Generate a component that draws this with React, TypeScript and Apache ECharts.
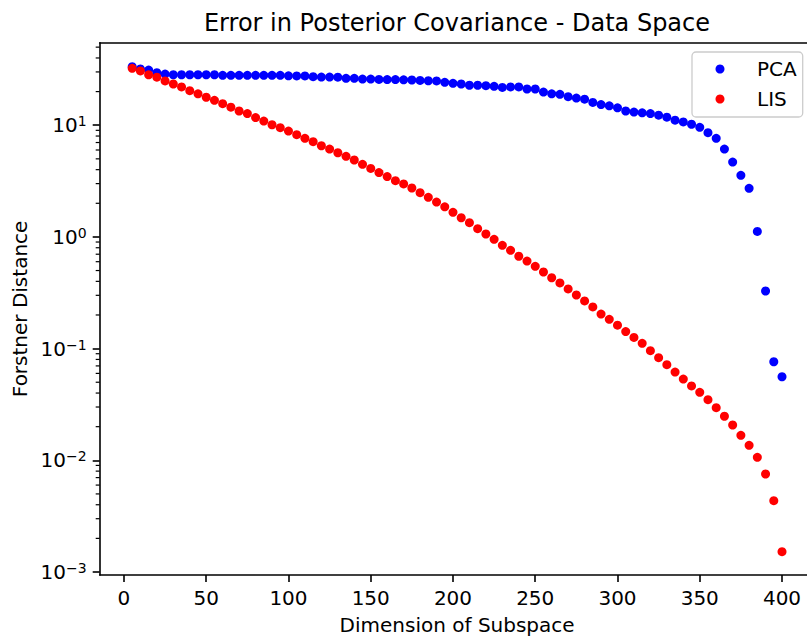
import React, { useEffect, useRef } from "react";
import * as echarts from "echarts";

const TITLE = "Error in Posterior Covariance - Data Space";
const X_NAME = "Dimension of Subspace";
const Y_NAME = "Forstner Distance";
const SERIES_NAMES = ["PCA", "LIS"];

const DIMENSIONS = [
  5, 10, 15, 20, 25, 30, 35, 40, 45, 50,
  55, 60, 65, 70, 75, 80, 85, 90, 95, 100,
  105, 110, 115, 120, 125, 130, 135, 140, 145, 150,
  155, 160, 165, 170, 175, 180, 185, 190, 195, 200,
  205, 210, 215, 220, 225, 230, 235, 240, 245, 250,
  255, 260, 265, 270, 275, 280, 285, 290, 295, 300,
  305, 310, 315, 320, 325, 330, 335, 340, 345, 350,
  355, 360, 365, 370, 375, 380, 385, 390, 395, 400,
];

const PCA = [
  33.4, 31.9, 31.2, 29.5, 28.7, 28.3, 28.3, 28.3, 28.3, 28.3,
  28.3, 28.0, 28.0, 28.0, 28.0, 28.0, 28.0, 28.0, 28.0, 27.7,
  27.6, 27.6, 27.2, 27.0, 27.0, 26.9, 26.3, 26.3, 25.9, 25.9,
  25.7, 25.6, 25.6, 25.5, 25.4, 25.2, 25.0, 24.9, 24.2, 23.7,
  23.4, 22.8, 22.8, 22.6, 22.3, 21.8, 22.0, 22.0, 21.1, 21.1,
  19.8, 19.1, 18.9, 18.0, 17.5, 17.1, 16.0, 15.3, 14.9, 14.3,
  13.4, 13.1, 12.9, 12.7, 12.3, 11.8, 11.1, 10.7, 10.2, 9.57,
  8.57, 7.63, 6.12, 4.68, 3.56, 2.72, 1.12, 0.328, 0.0763, 0.056,
];

const LIS = [
  32.3, 30.6, 28.3, 26.9, 24.9, 23.4, 22.0, 20.4, 19.1, 17.8,
  16.7, 15.6, 14.5, 13.4, 12.7, 11.7, 10.9, 10.1, 9.5, 8.87,
  8.22, 7.63, 7.12, 6.55, 6.12, 5.67, 5.27, 4.88, 4.47, 4.1,
  3.77, 3.47, 3.19, 2.98, 2.74, 2.49, 2.26, 2.05, 1.86, 1.66,
  1.485, 1.34, 1.184, 1.062, 0.952, 0.841, 0.759, 0.671, 0.608, 0.545,
  0.485, 0.431, 0.387, 0.342, 0.302, 0.267, 0.236, 0.204, 0.183, 0.162,
  0.142, 0.126, 0.1115, 0.0958, 0.0829, 0.0718, 0.0617, 0.0534, 0.0463, 0.0406,
  0.0349, 0.0296, 0.0248, 0.0207, 0.01674, 0.01362, 0.01064, 0.00754, 0.00435, 0.00152,
];

const X_TICKS = [0, 50, 100, 150, 200, 250, 300, 350, 400];
const Y_TICK_EXPONENTS = [-3, -2, -1, 0, 1];
const MINOR_MULTIPLIERS = [2, 3, 4, 5, 6, 7, 8, 9];

const FONT = "DejaVu Sans";

export default function App() {
  const ref = useRef<HTMLDivElement>(null);

  useEffect(() => {
    if (!ref.current) return;
    const chart = echarts.init(ref.current, undefined, { renderer: "svg" });

    const X_MIN = -14.75;
    const X_MAX = 419.75;
    const Y_MIN = -3.026;
    const Y_MAX = 1.737;

    const minorTicks: number[] = [];
    Y_TICK_EXPONENTS.forEach((e) => {
      MINOR_MULTIPLIERS.forEach((m) => {
        const v = Math.log10(m) + e;
        if (v > Y_MIN && v < Y_MAX) minorTicks.push(v);
      });
    });

    const supText = (n: number) => (n < 0 ? "\u2212" + Math.abs(n) : String(n));
    const spine = { show: true, onZero: false, lineStyle: { color: "#000", width: 1.6 } };

    const option: any = {
      animation: false,
      backgroundColor: "#ffffff",
      title: {
        text: TITLE,
        left: 457,
        top: 11,
        padding: 0,
        textAlign: "center",
        textStyle: { fontFamily: FONT, fontSize: 24, fontWeight: "normal", color: "#000" },
      },
      legend: {
        data: SERIES_NAMES,
        orient: "vertical",
        left: 692,
        top: 52,
        padding: [7, 6, 8, 23.5],
        itemGap: 10,
        itemWidth: 9,
        itemHeight: 9,
        icon: "circle",
        backgroundColor: "rgba(255,255,255,0.8)",
        borderColor: "#cccccc",
        borderWidth: 1.3,
        borderRadius: 4,
        textStyle: {
          fontFamily: FONT,
          fontSize: 20,
          color: "#000",
          lineHeight: 20,
          padding: [0, 0, 0, 27.5],
        },
      },
      grid: {
        left: 99.7,
        top: 42.9,
        width: 714.8,
        height: 532,
        show: false,
        containLabel: false,
        outerBoundsMode: "none",
      },
      xAxis: [
        {
          type: "value",
          position: "bottom",
          min: X_MIN,
          max: X_MAX,
          name: X_NAME,
          nameLocation: "middle",
          nameGap: 40,
          nameTextStyle: { fontFamily: FONT, fontSize: 20, color: "#000", lineHeight: 20 },
          splitLine: { show: false },
          axisLine: spine,
          axisTick: { show: true, length: 7, customValues: X_TICKS, lineStyle: { color: "#000", width: 1.6 } },
          axisLabel: {
            customValues: X_TICKS,
            margin: 13,
            fontFamily: FONT,
            fontSize: 20,
            color: "#000",
          },
        },
        {
          type: "value",
          position: "top",
          min: X_MIN,
          max: X_MAX,
          splitLine: { show: false },
          axisLine: spine,
          axisTick: { show: false },
          axisLabel: { show: false },
        },
      ],
      yAxis: [
        {
          type: "value",
          position: "left",
          min: Y_MIN,
          max: Y_MAX,
          name: Y_NAME,
          nameLocation: "middle",
          nameRotate: 90,
          nameGap: 70,
          nameTextStyle: { fontFamily: FONT, fontSize: 20, color: "#000" },
          splitLine: { show: false },
          axisLine: spine,
          axisTick: {
            show: true,
            length: 7,
            customValues: Y_TICK_EXPONENTS,
            lineStyle: { color: "#000", width: 1.6 },
          },
          axisLabel: {
            customValues: Y_TICK_EXPONENTS,
            margin: 13,
            formatter: (v: number) => `{b|10}{s|${supText(Math.round(v))}}`,
            rich: {
              b: { fontFamily: FONT, fontSize: 20, color: "#000" },
              s: { fontFamily: FONT, fontSize: 14, color: "#000", padding: [0, 0, 8, 0] },
            },
          },
        },
        {
          type: "value",
          position: "right",
          min: Y_MIN,
          max: Y_MAX,
          splitLine: { show: false },
          axisLine: spine,
          axisTick: { show: false },
          axisLabel: { show: false },
        },
      ],
      series: [
        {
          name: SERIES_NAMES[0],
          type: "scatter",
          symbol: "circle",
          symbolSize: 9,
          itemStyle: { color: "#0000ff", opacity: 1 },
          data: DIMENSIONS.map((x, i) => [x, Math.log10(PCA[i])]),
        },
        {
          name: SERIES_NAMES[1],
          type: "scatter",
          symbol: "circle",
          symbolSize: 9,
          itemStyle: { color: "#ff0000", opacity: 1 },
          data: DIMENSIONS.map((x, i) => [x, Math.log10(LIS[i])]),
        },
        {
          name: "minorTicks",
          type: "custom",
          silent: true,
          clip: false,
          z: 10,
          renderItem: (_params: any, api: any) => {
            const p = api.coord([api.value(0), api.value(1)]);
            return {
              type: "line",
              shape: { x1: p[0] - 4, y1: p[1], x2: p[0], y2: p[1] },
              style: { stroke: "#000", lineWidth: 1.2 },
            };
          },
          data: minorTicks.map((v) => [X_MIN, v]),
        },
      ],
    };

    chart.setOption(option);
    return () => chart.dispose();
  }, []);

  return (
    <div
      style={{
        position: "absolute",
        left: 0,
        top: 0,
        width: 807,
        height: 636,
        overflow: "hidden",
        background: "#ffffff",
      }}
    >
      <div ref={ref} style={{ width: 840, height: 636 }} />
    </div>
  );
}
